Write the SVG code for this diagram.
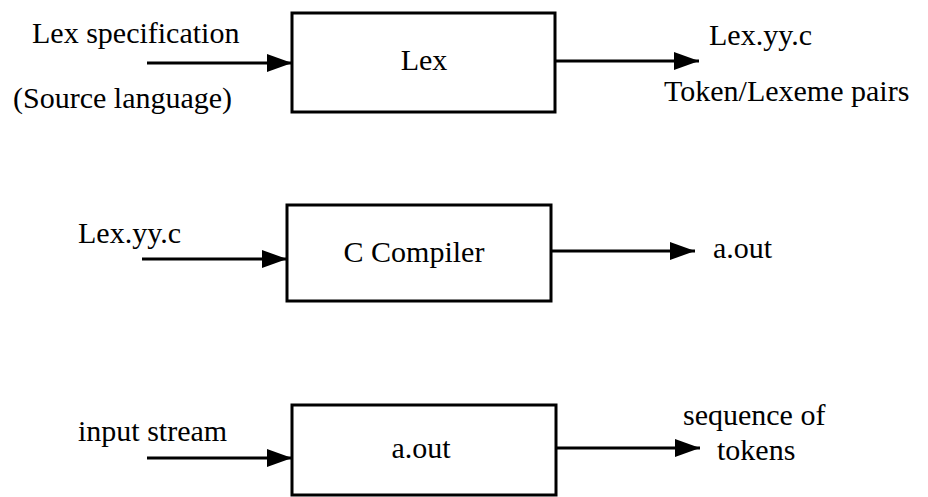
<svg xmlns="http://www.w3.org/2000/svg" width="928" height="497" viewBox="0 0 928 497">
<defs>
<marker id="ah" markerUnits="userSpaceOnUse" markerWidth="28" markerHeight="22" refX="26" refY="11" orient="auto" viewBox="0 0 28 22">
<path d="M1,2 L26,11 L1,20 Z" fill="#000"/>
</marker>
</defs>
<rect width="928" height="497" fill="#fff"/>
<g id="connectors" stroke="#000" stroke-width="3" marker-end="url(#ah)">
<line x1="147" y1="63" x2="292" y2="63" marker-end="url(#ah)"/>
<line x1="555" y1="61" x2="699" y2="61" marker-end="url(#ah)"/>
<line x1="142" y1="259" x2="287" y2="259" marker-end="url(#ah)"/>
<line x1="551" y1="251" x2="695" y2="251" marker-end="url(#ah)"/>
<line x1="147" y1="458" x2="292" y2="458" marker-end="url(#ah)"/>
<line x1="556" y1="448" x2="700" y2="448" marker-end="url(#ah)"/>
</g>
<g font-family="Liberation Serif, Times New Roman, DejaVu Serif, serif" font-size="30" fill="#000">
<g id="lex">
<rect x="292" y="13" width="263" height="99" fill="#fff" stroke="#000" stroke-width="3"/>
<text x="424" y="70" text-anchor="middle">Lex</text>
</g>
<g id="ccompiler">
<rect x="287" y="205" width="264" height="96" fill="#fff" stroke="#000" stroke-width="3"/>
<text x="414" y="262" text-anchor="middle">C Compiler</text>
</g>
<g id="aout">
<rect x="292" y="405" width="264" height="90" fill="#fff" stroke="#000" stroke-width="3"/>
<text x="421" y="458" text-anchor="middle">a.out</text>
</g>
<g id="labels">
<text x="32" y="43">Lex specification</text>
<text x="13" y="108">(Source language)</text>
<text x="709" y="45">Lex.yy.c</text>
<text x="664" y="101">Token/Lexeme pairs</text>
<text x="78" y="243">Lex.yy.c</text>
<text x="713" y="258">a.out</text>
<text x="78" y="441">input stream</text>
<text x="683" y="425">sequence of</text>
<text x="717" y="460">tokens</text>
</g>
</g>
</svg>
